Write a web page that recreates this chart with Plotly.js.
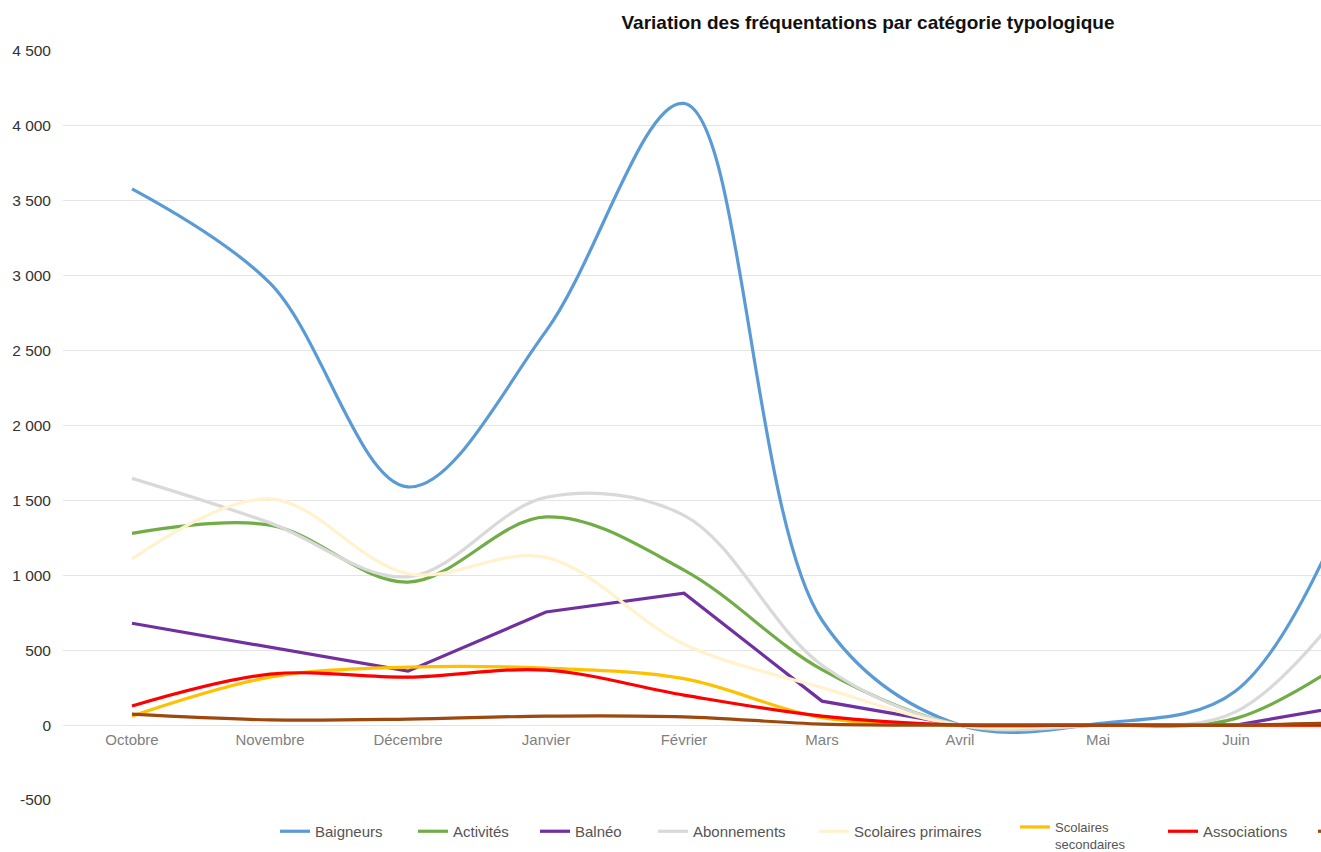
<!DOCTYPE html>
<html>
<head>
<meta charset="utf-8">
<script src="https://cdn.plot.ly/plotly-3.0.1.min.js"></script>
<style>
  html, body { margin: 0; padding: 0; overflow: hidden; background: #fff; width: 1321px; height: 852px; }
  #chart { width: 1736px; height: 852px; }
</style>
</head>
<body>
<div id="chart"></div>
<script>
// Categories (months); the reference is cropped on the right just past "Juin"
const months = ["Octobre", "Novembre", "Décembre", "Janvier", "Février", "Mars", "Avril", "Mai", "Juin", "Juillet"];
// Month labels visible in the reference (Juillet falls outside the cropped frame)
const shownMonths = ["Octobre", "Novembre", "Décembre", "Janvier", "Février", "Mars", "Avril", "Mai", "Juin"];

// Series values (Juillet estimated from the visible rise)
const baigneurs      = [3580, 2950, 1590, 2630, 4150, 700, 0, 10, 230, 1900];
const activites      = [1280, 1335, 955, 1390, 1035, 370, 0, 0, 45, 560];
const balneo         = [680, 520, 360, 755, 880, 160, 0, 0, 0, 160];
const abonnements    = [1647, 1350, 990, 1520, 1400, 400, 0, 0, 90, 1050];
const scolPrimaires  = [1110, 1510, 1010, 1120, 540, 250, 0, 0, 0, 0];
const scolSecondaires= [60, 320, 387, 380, 310, 50, 0, 0, 0, 0];
const associations   = [127, 340, 320, 367, 200, 60, 0, 0, 0, 0];
const clubs          = [73, 35, 40, 60, 55, 7, 0, 0, 0, 20];

const seriesNames = ["Baigneurs", "Activités", "Balnéo", "Abonnements", "Scolaires primaires", "Scolaires<br>secondaires", "Associations", "Clubs"];
const seriesData  = [baigneurs, activites, balneo, abonnements, scolPrimaires, scolSecondaires, associations, clubs];
const seriesColors= ["#5b9bd5", "#70ad47", "#7030a0", "#d9d9d9", "#fff2cc", "#ffc000", "#ff0000", "#9e480e"];
const seriesShape = ["spline", "spline", "linear", "spline", "spline", "spline", "spline", "spline"];

const yTickVals  = [-500, 0, 500, 1000, 1500, 2000, 2500, 3000, 3500, 4000, 4500];
const yTickText  = ["-500", "0", "500", "1 000", "1 500", "2 000", "2 500", "3 000", "3 500", "4 000", "4 500"];

const W = 1736;
const FONT = "Liberation Sans, Arial, sans-serif";
const legendStarts = [275, 413, 535, 653, 814, 1015, 1163, 1313]; // pixel x of each legend entry

const traces = seriesData.map((vals, i) => ({
  type: "scatter",
  mode: "lines",
  x: months,
  y: vals,
  name: seriesNames[i],
  line: { color: seriesColors[i], width: 3.2, shape: seriesShape[i], smoothing: 1 },
  legend: i === 0 ? "legend" : "legend" + (i + 1),
  hoverinfo: "x+y+name"
}));

const layout = {
  width: W,
  height: 852,
  paper_bgcolor: "#ffffff",
  plot_bgcolor: "#ffffff",
  margin: { l: 63, r: 17, t: 51, b: 52 },
  title: {
    text: "<b>Variation des fréquentations par catégorie typologique</b>",
    font: { family: FONT, size: 19, color: "#111" },
    x: 0.5, xref: "container", xanchor: "center",
    y: 1 - 22 / 852, yref: "container", yanchor: "middle"
  },
  xaxis: {
    type: "category",
    categoryorder: "array",
    categoryarray: months,
    tickmode: "array",
    tickvals: shownMonths,
    ticktext: shownMonths,
    range: [-0.5, 11.5],
    showgrid: false,
    zeroline: false,
    showline: false,
    ticks: "",
    anchor: "free",
    position: 75 / 749,
    ticklabelstandoff: 4,
    tickfont: { family: FONT, size: 15, color: "#7f7f7f" }
  },
  yaxis: {
    range: [-500, 4500],
    tickvals: yTickVals,
    ticktext: yTickText,
    showgrid: true,
    gridcolor: "#e4e4e4",
    gridwidth: 1,
    zeroline: false,
    showline: false,
    ticks: "",
    ticklabelstandoff: 11,
    tickfont: { family: FONT, size: 15.5, color: "#333" }
  },
  showlegend: true,
  hovermode: "closest"
};

legendStarts.forEach((px, i) => {
  const key = i === 0 ? "legend" : "legend" + (i + 1);
  const twoLine = (i === 5);
  layout[key] = {
    orientation: "h",
    xref: "container", yref: "container",
    x: px / W, xanchor: "left",
    y: 1 - (twoLine ? 812 : 815) / 852, yanchor: "top",
    valign: "top",
    bgcolor: "rgba(0,0,0,0)",
    borderwidth: 0,
    font: { family: FONT, size: twoLine ? 13 : 15, color: "#555" }
  };
});

Plotly.newPlot("chart", traces, layout, { displayModeBar: false, responsive: false });
</script>
</body>
</html>
